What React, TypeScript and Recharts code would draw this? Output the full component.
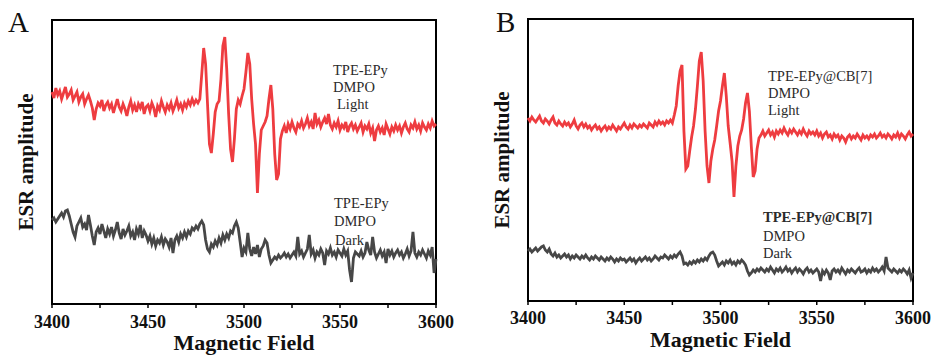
import { LineChart, Line, XAxis, YAxis, ReferenceArea } from "recharts";

// magnetic field sampling (G), one point per gauss
const FIELD = Array.from({ length: 201 }, (_, i) => 3400 + i);
const FIELD_TICKS = [3400, 3425, 3450, 3475, 3500, 3525, 3550, 3575, 3600];

// panel A: TPE-EPy + DMPO, light
const LIGHT_A = [
  212, 206, 216, 209, 213, 205, 211, 217, 207, 210,
  214, 204, 208, 212, 202, 207, 210, 200, 205, 209,
  203, 196, 184, 195, 201, 198, 204, 193, 199, 202,
  196, 200, 191, 198, 205, 197, 193, 200, 195, 188,
  197, 203, 194, 199, 192, 200, 196, 202, 190, 197,
  199, 193, 201, 196, 187, 198, 194, 203, 197, 192,
  199, 195, 201, 193, 198, 204, 196, 200, 194, 201,
  197, 203, 199, 205, 200, 204, 201, 205, 230, 256,
  240, 200, 160, 151, 170, 192, 200, 203, 225, 258,
  267, 235, 190, 155, 142, 165, 195, 204, 200, 208,
  215, 232, 251, 240, 205, 180, 160, 111, 150, 174,
  178, 182, 188, 205, 219, 195, 150, 124, 130, 165,
  173, 178, 171, 180, 175, 182, 176, 172, 180, 177,
  183, 176, 180, 186, 178, 182, 175, 191, 180, 184,
  177, 182, 186, 180, 190, 179, 175, 181, 177, 183,
  174, 179, 176, 182, 172, 178, 181, 175, 179, 173,
  177, 181, 172, 178, 175, 180, 171, 176, 163, 174,
  178, 172, 176, 169, 180, 175, 170, 177, 173, 179,
  174, 178, 171, 177, 181, 175, 172, 179, 176, 182,
  175, 179, 173, 181, 177, 174, 180, 176, 183, 178,
  180,
];

// panel A: TPE-EPy + DMPO, dark
const DARK_A = [
  84, 86, 82, 85, 88, 91, 87, 93, 94, 88,
  80, 72, 67, 78, 82, 86, 77, 80, 74, 89,
  79, 68, 59, 72, 76, 70, 80, 73, 66, 75,
  70, 77, 68, 74, 82, 71, 65, 75, 69, 73,
  78, 68, 72, 64, 75, 70, 79, 66, 73, 69,
  63, 68, 60, 66, 58, 64, 61, 67, 59, 65,
  62, 57, 66, 51, 64, 68, 62, 70, 66, 72,
  67, 73, 70, 76, 74, 78, 75, 80, 83, 79,
  64, 55, 52, 60, 57, 63, 59, 66, 61, 69,
  64, 70, 66, 73, 71, 78, 82, 76, 62, 47,
  56, 52, 71, 55, 48, 57, 50, 59, 47, 55,
  58, 64, 61, 49, 41, 44, 47, 45, 49, 46,
  48, 51, 47, 50, 46, 49, 52, 48, 67, 50,
  53, 47, 51, 55, 69, 50, 54, 46, 52, 49,
  55, 51, 39, 53, 50, 56, 49, 52, 47, 54,
  51, 48, 55, 49, 53, 34, 22, 46, 52, 50,
  48, 53, 47, 51, 62, 54, 49, 67, 52, 46,
  50, 54, 48, 52, 41, 55, 49, 53, 47, 51,
  54, 49, 52, 46, 50, 55, 48, 53, 72, 51,
  47, 52, 49, 54, 50, 46, 53, 49, 57, 31,
  45,
];

// panel B: TPE-EPy@CB[7] + DMPO, light
const LIGHT_B = [
  183, 180, 184, 181, 179, 182, 185, 180, 178, 182,
  180, 177, 181, 184, 178, 176, 180, 177, 175, 179,
  176, 178, 174, 177, 181, 175, 172, 176, 178, 174,
  177, 173, 175, 171, 174, 176, 172, 174, 170, 173,
  175, 171, 174, 172, 176, 173, 170, 174, 172, 175,
  178, 174, 172, 176, 173, 177, 175, 173, 176, 174,
  177, 175, 173, 178, 176, 174, 179, 176, 180, 177,
  179, 176, 180, 178, 181, 178, 186, 195, 215, 230,
  236, 170, 132, 135, 150, 164, 175, 192, 215, 240,
  249, 220, 170, 135, 118, 140, 152, 161, 175, 190,
  200, 215, 228, 205, 175, 158, 140, 104, 135, 155,
  165, 171, 182, 198, 208, 190, 155, 124, 130, 152,
  163, 166, 170, 165, 168, 171, 166, 169, 164, 170,
  167, 171, 168, 173, 169, 166, 171, 168, 172, 169,
  166, 170, 167, 172, 168, 165, 170, 167, 169, 166,
  170, 165, 168, 163, 167, 169, 164, 166, 162, 167,
  164, 166, 161, 165, 163, 159, 164, 166, 162, 165,
  163, 167, 164, 161, 166, 163, 165, 162, 166, 164,
  167, 163, 165, 168, 164, 166, 163, 167, 165, 162,
  166, 164, 168, 163, 167, 165, 162, 166, 169, 165,
  167,
];

// panel B: TPE-EPy@CB[7] + DMPO, dark
const DARK_B = [
  50, 52, 49, 51, 53, 50, 52, 54, 55, 51,
  49, 52, 47, 45, 48, 44, 46, 43, 45, 47,
  44, 46, 42, 45, 43, 46, 44, 42, 45, 43,
  46, 43, 41, 44, 42, 45, 43, 41, 44, 42,
  40, 43, 41, 44, 42, 39, 42, 40, 43, 41,
  42, 39, 41, 43, 40, 42, 38, 41, 43, 40,
  42, 44, 41, 43, 40, 42, 45, 43, 41, 44,
  43, 46, 44, 42, 45, 43, 46, 44, 47, 49,
  45, 37, 38, 36, 39, 37, 40, 38, 41, 39,
  42, 40, 43, 41, 45, 48, 49, 46, 40, 35,
  37, 39, 36, 40, 38, 41, 37, 39, 36, 40,
  38, 41, 39, 36, 30, 26, 28, 31, 29, 32,
  30, 33, 31, 29, 32, 30, 34, 31, 28, 32,
  30, 33, 29, 31, 34, 30, 32, 28, 31, 33,
  29, 32, 30, 27, 31, 33, 29, 31, 28, 30,
  32, 29, 20, 30, 27, 31, 28, 21, 30, 32,
  29, 31, 28, 33, 30, 27, 31, 29, 32, 30,
  28, 31, 33, 29, 30, 32, 28, 31, 29, 33,
  30, 32, 29, 31, 34, 30, 44, 33, 31, 29,
  32, 30, 28, 31, 29, 32, 30, 27, 31, 23,
  28,
];

const SERIF = "'Times New Roman', 'Liberation Serif', serif";
const RED = "#ee3c40";
const GREY = "#474747";

const rowsA = FIELD.map((f, i) => ({ field: f, light: LIGHT_A[i], dark: DARK_A[i] }));
const rowsB = FIELD.map((f, i) => ({ field: f, light: LIGHT_B[i], dark: DARK_B[i] }));

function Panel({ data, yMax, width, margin, xHeight, labelOffset, tickGap }) {
  return (
    <LineChart width={width} height={359} data={data} margin={margin}>
      <XAxis
        dataKey="field"
        type="number"
        domain={[3400, 3600]}
        ticks={FIELD_TICKS}
        tickFormatter={(v) => (v % 50 === 0 ? String(v) : "")}
        height={xHeight}
        axisLine={false}
        tickSize={4}
        tickMargin={tickGap}
        tickLine={{ stroke: "#000", strokeWidth: 1.5 }}
        tick={{ fontSize: 18, fontWeight: 700, fill: "#111", fontFamily: SERIF }}
        label={{
          value: "Magnetic Field",
          position: "insideBottom",
          offset: labelOffset,
          style: { fontSize: 22, fontWeight: 700, fill: "#111", fontFamily: SERIF },
        }}
      />
      <YAxis
        type="number"
        domain={[0, yMax]}
        width={52}
        tick={false}
        tickLine={false}
        axisLine={false}
        label={{
          value: "ESR amplitude",
          angle: -90,
          position: "center",
          style: { fontSize: 21, fontWeight: 700, fill: "#111", fontFamily: SERIF },
        }}
      />
      <ReferenceArea
        x1={3400}
        x2={3600}
        y1={0}
        y2={yMax}
        fill="none"
        stroke="#000"
        strokeWidth={2}
      />
      <Line
        dataKey="light"
        type="linear"
        stroke={RED}
        strokeWidth={2.8}
        dot={false}
        isAnimationActive={false}
      />
      <Line
        dataKey="dark"
        type="linear"
        stroke={GREY}
        strokeWidth={2.8}
        dot={false}
        isAnimationActive={false}
      />
    </LineChart>
  );
}

export default function App() {
  const note = { fontSize: 14.5, fill: "#2b2b2b", fontFamily: SERIF };
  return (
    <div style={{ position: "absolute", left: 0, top: 0, width: 936, height: 359, background: "#fff" }}>
      <div style={{ position: "absolute", left: 0, top: 0 }}>
        <Panel
          data={rowsA}
          yMax={284}
          width={470}
          margin={{ top: 20, right: 34, bottom: 0, left: 0 }}
          xHeight={55}
          labelOffset={9}
          tickGap={7}
        />
      </div>
      <div style={{ position: "absolute", left: 470, top: 0 }}>
        <Panel
          data={rowsB}
          yMax={282}
          width={466}
          margin={{ top: 19, right: 23, bottom: 0, left: 6 }}
          xHeight={58}
          labelOffset={12}
          tickGap={6}
        />
      </div>
      <svg
        width={936}
        height={359}
        style={{ position: "absolute", left: 0, top: 0, pointerEvents: "none" }}
      >
        <text x={8} y={32} fontSize={29} fontFamily={SERIF} fill="#111">A</text>
        <text x={496} y={32} fontSize={29} fontFamily={SERIF} fill="#111">B</text>

        <text x={333} y={75} {...note}>TPE-EPy</text>
        <text x={333} y={92} {...note}>DMPO</text>
        <text x={337} y={109} {...note}>Light</text>

        <text x={334} y={208} {...note}>TPE-EPy</text>
        <text x={334} y={226} {...note}>DMPO</text>
        <text x={335} y={245} {...note}>Dark</text>

        <text x={768} y={81} {...note}>TPE-EPy@CB[7]</text>
        <text x={768} y={98} {...note}>DMPO</text>
        <text x={768} y={115} {...note}>Light</text>

        <text x={763} y={222} {...note} fontWeight={700}>TPE-EPy@CB[7]</text>
        <text x={763} y={241} {...note}>DMPO</text>
        <text x={763} y={258} {...note}>Dark</text>
      </svg>
    </div>
  );
}
